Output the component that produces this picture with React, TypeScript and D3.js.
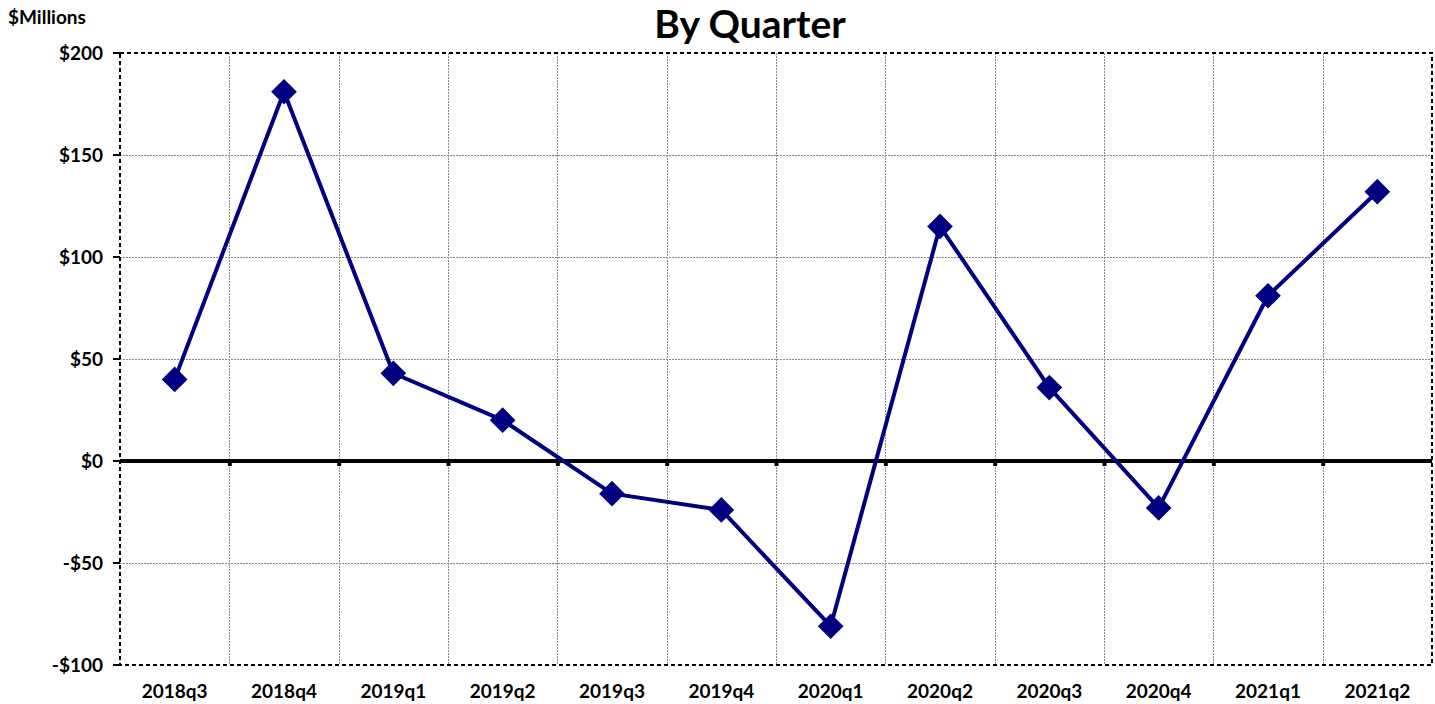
import { useRef, useEffect } from 'react';
import * as d3 from 'd3';

const quarters = ['2018q3', '2018q4', '2019q1', '2019q2', '2019q3', '2019q4', '2020q1', '2020q2', '2020q3', '2020q4', '2021q1', '2021q2'];
const values = [40, 181, 43, 20, -16, -24, -81, 115, 36, -23, 81, 132];
const yTicks = [-100, -50, 0, 50, 100, 150, 200];

const width = 1435;
const height = 704;
const font = 'Lato, "Open Sans", sans-serif';

export default function App() {
  const svgRef = useRef<SVGSVGElement>(null);

  useEffect(() => {
    if (!svgRef.current) return;
    const svg = d3.select(svgRef.current);
    svg.selectAll('*').remove();

    const left = 120, right = 1432, top = 53, bottom = 665;

    const x = d3.scaleBand().domain(quarters).range([left, right]);
    const y = d3.scaleLinear().domain([-100, 200]).range([bottom, top]);

    // gridlines
    const grid = svg.append('g').attr('stroke', '#888').attr('stroke-width', 1).attr('stroke-dasharray', '2,1');
    yTicks.slice(1, -1).forEach(t => {
      grid.append('line').attr('x1', left).attr('x2', right).attr('y1', Math.round(y(t)) + 0.5).attr('y2', Math.round(y(t)) + 0.5);
    });
    quarters.slice(1).forEach(q => {
      const gx = Math.round(x(q)!) + 0.5;
      grid.append('line').attr('x1', gx).attr('x2', gx).attr('y1', top).attr('y2', bottom);
    });

    // border
    svg.append('rect')
      .attr('x', left).attr('y', top).attr('width', right - left).attr('height', bottom - top)
      .attr('fill', 'none').attr('stroke', '#000').attr('stroke-width', 2).attr('stroke-dasharray', '4,3');

    // y ticks + labels
    yTicks.forEach(t => {
      svg.append('line').attr('x1', left - 7).attr('x2', left).attr('y1', y(t)).attr('y2', y(t))
        .attr('stroke', '#000').attr('stroke-width', 2);
      svg.append('text').attr('x', 103).attr('y', y(t)).attr('dy', '0.35em')
        .attr('text-anchor', 'end').attr('font-family', font).attr('font-weight', 700).attr('font-size', 19)
        .text(d3.format('$,')(t).replace('−', '-').replace('$-', '-$'));
    });

    // zero line
    svg.append('line').attr('x1', left).attr('x2', right).attr('y1', y(0)).attr('y2', y(0))
      .attr('stroke', '#000').attr('stroke-width', 4);
    quarters.slice(1).forEach(q => {
      svg.append('rect').attr('x', x(q)! - 1.5).attr('y', y(0)).attr('width', 4).attr('height', 5).attr('fill', '#000');
    });

    // x labels
    quarters.forEach(q => {
      svg.append('text').attr('x', x(q)! + x.bandwidth() / 2).attr('y', 698)
        .attr('text-anchor', 'middle').attr('font-family', font).attr('font-weight', 700).attr('font-size', 19)
        .text(q);
    });

    // line
    const line = d3.line<number>()
      .x((_, i) => x(quarters[i])! + x.bandwidth() / 2)
      .y(d => y(d));
    svg.append('path').datum(values).attr('d', line)
      .attr('fill', 'none').attr('stroke', '#000080').attr('stroke-width', 4).attr('stroke-linejoin', 'round');

    // markers
    const diamond = d3.symbol().type(d3.symbolSquare).size(330);
    values.forEach((v, i) => {
      svg.append('path').attr('d', diamond()!)
        .attr('transform', `translate(${x(quarters[i])! + x.bandwidth() / 2},${y(v)}) rotate(45)`)
        .attr('fill', '#000080');
    });

    // title
    svg.append('text').attr('x', 750).attr('y', 38).attr('text-anchor', 'middle')
      .attr('font-family', font).attr('font-weight', 700).attr('font-size', 39).text('By Quarter');
    svg.append('text').attr('x', 8).attr('y', 24)
      .attr('font-family', font).attr('font-weight', 700).attr('font-size', 19).text('$Millions');
  }, []);

  return (
    <svg ref={svgRef} width={width} height={height} style={{ position: 'absolute', left: 0, top: 0 }}></svg>
  );
}
